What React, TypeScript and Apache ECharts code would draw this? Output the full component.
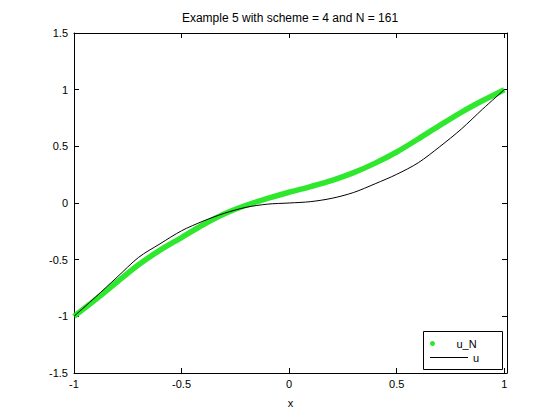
import React, { useEffect, useRef } from "react";
import * as echarts from "echarts";

const titleText = "Example 5 with scheme = 4 and N = 161";
const xName = "x";
const xValues = [-1, -0.9, -0.8, -0.7, -0.6, -0.5, -0.4, -0.3, -0.2, -0.1, 0, 0.1, 0.2, 0.3, 0.4, 0.5, 0.6, 0.7, 0.8, 0.9, 1];
const uN = [-1.0, -0.853, -0.697, -0.545, -0.416, -0.305, -0.192, -0.095, -0.02, 0.04, 0.095, 0.145, 0.2, 0.268, 0.352, 0.45, 0.565, 0.685, 0.8, 0.904, 1.0];
const u = [-1.0, -0.83, -0.655, -0.48, -0.36, -0.245, -0.16, -0.09, -0.038, -0.01, 0.0, 0.012, 0.042, 0.093, 0.17, 0.253, 0.355, 0.497, 0.652, 0.83, 1.0];
const xMin = -1;
const xMax = 1.0125;
const yMin = -1.5;
const yMax = 1.5;

const FONT = "'Liberation Sans', Arial, Helvetica, sans-serif";

export default function App() {
  const ref = useRef<HTMLDivElement>(null);
  useEffect(() => {
    if (!ref.current) return;
    const chart = echarts.init(ref.current, undefined, { renderer: "svg" });
    const axisLine = { show: true, onZero: false, lineStyle: { color: "#000", width: 1 } };
    const tick = { show: true, inside: true, length: 5, lineStyle: { color: "#000" } };
    const fmtX = (v: number) => (v > 1.001 ? "" : String(v));
    chart.setOption({
      animation: false,
      backgroundColor: "#fff",
      title: {
        text: titleText,
        left: 290,
        top: 12,
        padding: 0,
        textAlign: "center",
        textStyle: { fontFamily: FONT, fontSize: 12, fontWeight: "normal", color: "#000" },
      },
      grid: { left: 74, right: 53, top: 33, bottom: 47 },
      legend: [
        {
          data: [{ name: "u_N", icon: "circle" }],
          left: 430,
          top: 338,
          padding: 0,
          itemWidth: 38,
          itemHeight: 5,
          itemGap: 0,
          selectedMode: false,
          textStyle: { fontFamily: FONT, fontSize: 11, color: "#000" },
        },
        {
          data: [{ name: "u", icon: "path://M0,0h38v1h-38z" }],
          left: 430,
          top: 352,
          padding: 0,
          itemWidth: 38,
          itemHeight: 12,
          selectedMode: false,
          textStyle: { fontFamily: FONT, fontSize: 11, color: "#000" },
        },
      ],
      graphic: [
        {
          type: "rect",
          shape: { x: 423.5, y: 331.5, width: 79, height: 38 },
          style: { fill: "none", stroke: "#000", lineWidth: 1 },
          z: 100,
        },
      ],
      xAxis: [
        {
          type: "value",
          min: xMin,
          max: xMax,
          interval: 0.5,
          position: "bottom",
          name: xName,
          nameLocation: "middle",
          nameGap: 24,
          nameTextStyle: { fontFamily: FONT, fontSize: 11, color: "#000" },
          axisLine,
          axisTick: tick,
          axisLabel: { fontFamily: FONT, fontSize: 11, color: "#000", margin: 5, formatter: fmtX },
          splitLine: { show: false },
        },
        {
          type: "value",
          min: xMin,
          max: xMax,
          interval: 0.5,
          position: "top",
          axisLine,
          axisTick: tick,
          axisLabel: { show: false },
          splitLine: { show: false },
        },
      ],
      yAxis: [
        {
          type: "value",
          min: yMin,
          max: yMax,
          interval: 0.5,
          position: "left",
          axisLine,
          axisTick: tick,
          axisLabel: { fontFamily: FONT, fontSize: 11, color: "#000", margin: 6 },
          splitLine: { show: false },
        },
        {
          type: "value",
          min: yMin,
          max: yMax,
          interval: 0.5,
          position: "right",
          axisLine,
          axisTick: tick,
          axisLabel: { show: false },
          splitLine: { show: false },
        },
      ],
      series: [
        {
          name: "u_N",
          type: "line",
          data: xValues.map((x, i) => [x, uN[i]]),
          symbol: "none",
          smooth: 0.3,
          color: "#2ee82e",
          lineStyle: { color: "#2ee82e", width: 5.5 },
          z: 2,
        },
        {
          name: "u",
          type: "line",
          data: xValues.map((x, i) => [x, u[i]]),
          symbol: "none",
          smooth: 0.3,
          color: "#000",
          lineStyle: { color: "#000", width: 1 },
          z: 3,
        },
      ],
    });
    return () => chart.dispose();
  }, []);
  return <div ref={ref} style={{ width: 560, height: 420, position: "absolute", left: 0, top: 0 }} />;
}
